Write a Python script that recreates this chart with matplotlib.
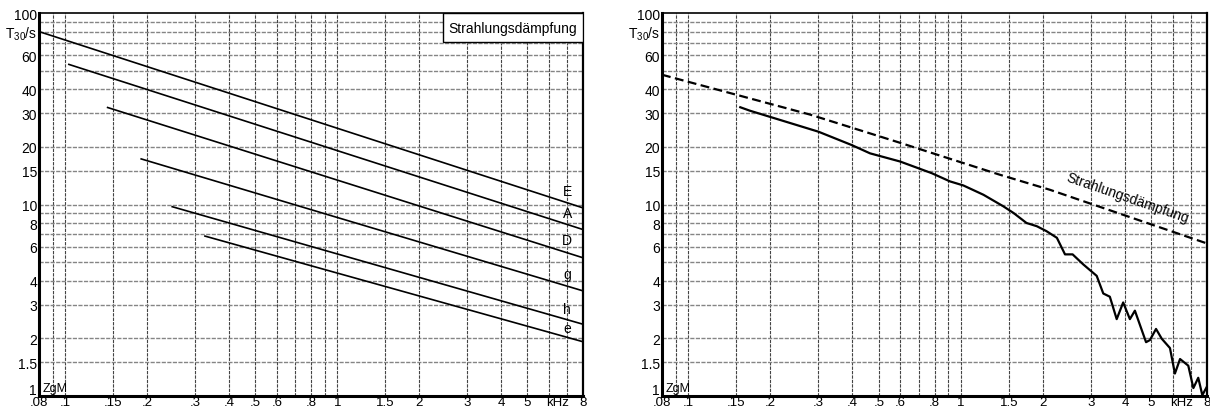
import matplotlib
matplotlib.use("Agg")
import matplotlib.pyplot as plt
from matplotlib.patches import Rectangle
from matplotlib.transforms import ScaledTranslation

plt.rcParams['font.family'] = ['Liberation Sans', 'DejaVu Sans']
plt.rcParams['font.size'] = 10

# axis ticks / grid
x_grid = [0.09, 0.1, 0.15, 0.2, 0.3, 0.4, 0.5, 0.6, 0.7, 0.8, 0.9,
          1, 1.5, 2, 3, 4, 5, 6, 7]
y_grid = [1.5, 2, 3, 4, 5, 6, 7, 8, 9, 10, 15, 20, 30, 40, 50, 60, 70, 80, 90]
x_ticks = [0.08, 0.1, 0.15, 0.2, 0.3, 0.4, 0.5, 0.6, 0.8, 1, 1.5, 2, 3, 4, 5, 6.45, 8]
x_labels = ['.08', '.1', '.15', '.2', '.3', '.4', '.5', '.6', '.8', '1', '1.5',
            '2', '3', '4', '5', 'kHz', '8']
y_ticks = [1, 1.5, 2, 3, 4, 6, 8, 10, 15, 20, 30, 40, 60, 80, 100]
y_labels = ['1', '1.5', '2', '3', '4', '6', '8', '10', '15', '20', '30', '40',
            '60', 'T$_\\mathregular{30}$/s', '100']

# left panel: radiation damping per string (kHz, s)
strings = ['E', 'A', 'D', 'g', 'h', 'e']
str_f = {
    'E': [0.08, 8.0],
    'A': [0.103, 8.0],
    'D': [0.143, 8.0],
    'g': [0.19, 8.0],
    'h': [0.247, 8.0],
    'e': [0.326, 8.0],
}
str_T = {
    'E': [80.0, 9.6],
    'A': [53.9, 7.4],
    'D': [32.1, 5.27],
    'g': [17.3, 3.54],
    'h': [9.74, 2.37],
    'e': [6.84, 1.92],
}
label_T = [11.7, 9.03, 6.56, 4.32, 2.84, 2.26]

# right panel
rad_f = [0.08, 0.279, 0.598, 1.39, 2.12, 8.0]
rad_T = [47.6, 29.5, 21.0, 14.3, 11.94, 6.26]
meas_f = [0.155, 0.168, 0.30, 0.397, 0.464, 0.598, 0.781, 0.912, 1.02, 1.21,
          1.43, 1.56, 1.74, 1.90, 2.06, 2.25, 2.41, 2.57, 2.81, 3.15, 3.33,
          3.52, 3.73, 3.94, 4.17, 4.35, 4.78, 4.94, 5.2, 5.46, 5.85, 6.10,
          6.37, 6.83, 7.13, 7.43, 7.69, 7.97]
meas_T = [32.2, 30.9, 24.0, 20.45, 18.5, 16.77, 14.58, 13.2, 12.58, 11.24,
          9.79, 9.03, 8.01, 7.70, 7.26, 6.70, 5.49, 5.49, 4.87, 4.24, 3.43,
          3.30, 2.52, 3.08, 2.52, 2.79, 1.91, 1.96, 2.24, 1.99, 1.78, 1.31,
          1.56, 1.44, 1.10, 1.245, 1.01, 1.11]


def setup(ax):
    ax.set_xscale('log')
    ax.set_yscale('log')
    ax.set_xlim(0.08, 8)
    ax.set_ylim(1, 100)
    for xv in x_grid:
        ax.axvline(xv, color='#444444', lw=0.8, ls=(0, (3, 1)), zorder=1)
    for yv in y_grid:
        ax.axhline(yv, color='#858585', lw=1.0, ls=(0, (3, 1)), zorder=1)
    ax.set_xticks(x_ticks)
    ax.set_xticklabels(x_labels)
    ax.set_yticks(y_ticks)
    ax.set_yticklabels(y_labels)
    ax.minorticks_off()
    ax.tick_params(axis='y', length=0, pad=1.5, labelsize=10)
    ax.tick_params(axis='x', length=0, pad=0.3, labelsize=9.5)
    # lift the "1" so it sits above ".08" like in the original
    lab = ax.get_yticklabels()[0]
    lab.set_transform(lab.get_transform() +
                      ScaledTranslation(0, 5.5 / 72, ax.figure.dpi_scale_trans))
    ax.spines['left'].set_linewidth(2.2)
    ax.spines['bottom'].set_linewidth(2.2)
    ax.spines['top'].set_linewidth(1.2)
    ax.spines['right'].set_linewidth(1.6)
    ax.text(0.006, 0.004, 'ZgM', transform=ax.transAxes, fontsize=9,
            ha='left', va='bottom', zorder=5)


fig = plt.figure(figsize=(12.1, 4.14), dpi=100)
ax1 = fig.add_axes([39 / 1210, 17 / 414, 544 / 1210, 383 / 414])
ax2 = fig.add_axes([662 / 1210, 17 / 414, 545 / 1210, 383 / 414])

setup(ax1)
for name in strings:
    ax1.plot(str_f[name], str_T[name], color='black', lw=1.2, zorder=3)
for name, ty in zip(strings, label_T):
    ax1.text(7.0, ty, name, ha='center', va='center', fontsize=10, zorder=4)
ax1.add_patch(Rectangle((0.743, 0.924), 0.257, 0.076, transform=ax1.transAxes,
                        facecolor='white', edgecolor='black', lw=1.0, zorder=4))
ax1.text(0.8715, 0.962, 'Strahlungsdämpfung', transform=ax1.transAxes,
         ha='center', va='center', fontsize=10, zorder=5)

setup(ax2)
ax2.plot(rad_f, rad_T, color='black', lw=1.6, ls=(0, (4, 2)), zorder=3)
ax2.plot(meas_f, meas_T, color='black', lw=1.6, zorder=3)
ax2.text(4.07, 10.9, 'Strahlungsdämpfung', rotation=-19, ha='center',
         va='center', rotation_mode='anchor', fontsize=10, zorder=4)

fig.savefig('out.png', dpi=100)
